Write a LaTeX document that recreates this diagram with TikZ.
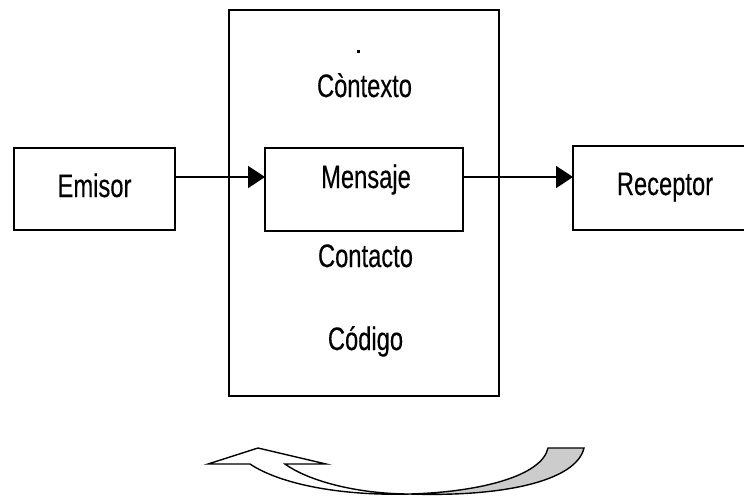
\documentclass[tikz,border=0pt]{standalone}
\usepackage{fontspec}
\setmainfont{Liberation Sans}[FakeStretch=0.73,FakeBold=0.3]
\usetikzlibrary{arrows.meta}
\begin{document}
\begin{tikzpicture}[x=1pt,y=-1pt,
  box/.style={draw,line width=2.2pt,inner sep=0pt,outer sep=0pt},
  lbl/.style={inner sep=0pt,anchor=base,font=\fontsize{32.5}{38}\selectfont},
  link/.style={line width=1.8pt,-{Triangle[length=17pt,width=22pt]}},
  band/.style={draw,line width=1.4pt,line join=miter}]
\useasboundingbox (0,0) rectangle (744,496);
% boxes
\node[box,minimum width=161pt,minimum height=82pt] (emisor) at (94.5,189) {};
\node[box,minimum width=270pt,minimum height=386pt] (marco) at (364,203) {};
\node[box,minimum width=198pt,minimum height=83pt] (mensaje) at (364,189.5) {};
\node[box,minimum width=175pt,minimum height=84pt] (receptor) at (660.5,188) {};
% texts
\node[lbl] (temisor) at (94.5,197) {Emisor};
\node[lbl] (tcontexto) at (364.5,97) {Còntexto};
\node[lbl] (tmensaje) at (366,188) {Mensaje};
\node[lbl] (tcontacto) at (365.5,267) {Contacto};
\node[lbl] (tcodigo) at (365.5,350) {Código};
\node[lbl] (treceptor) at (665,195) {Receptor};
% stray mark
\fill (356.5,49.5) rectangle (359.5,52.5);
% connectors
\coordinate (ay) at (0,177);
\draw[link] (emisor.east |- ay) -- (mensaje.west |- ay);
\draw[link] (mensaje.east |- ay) -- (receptor.west |- ay);
% curved block arrow
\coordinate (T) at (208,464);
\coordinate (A) at (258,448);
\coordinate (R) at (326,464);
\coordinate (I) at (285,464);
\coordinate (O) at (250,464);
\coordinate (Q) at (410,494);
\coordinate (P1) at (548,448);
\coordinate (P2) at (584,448);
\path[band,fill=white] (T) -- (A) -- (R) -- (I)
  .. controls (310,482) and (360,494) .. (Q)
  .. controls (340,496) and (280,484) .. (O) -- cycle;
\path[band,fill=black!20] (Q) .. controls (480,492) and (542,476) .. (P1)
  -- (P2) .. controls (576,482) and (500,497) .. (Q) -- cycle;
\end{tikzpicture}
\end{document}
